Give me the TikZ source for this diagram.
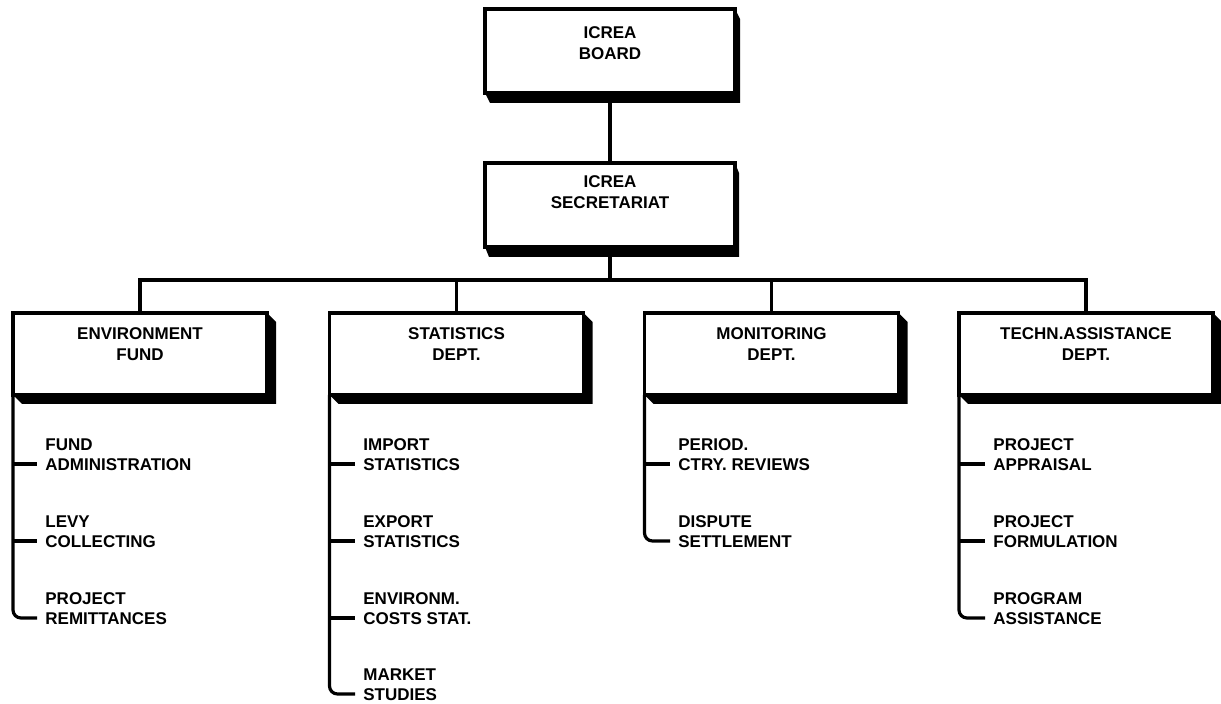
\documentclass[tikz,border=0pt]{standalone}
\usepackage{fontspec}
\setmainfont{Liberation Sans}
\usetikzlibrary{calc,backgrounds}
\newcommand\dropshadow[3]{%
  \fill ($(#1.south west)$) -- ($(#1.south west)+(#2,#3)$) -- ($(#1.south east)+(#2,#3)$)
    -- ($(#1.north east)+(#2,#3)$) -- ($(#1.north east)$) -- cycle;}
\begin{document}
\begin{tikzpicture}[x=0.5pt,y=-0.5pt,
  every node/.style={font=\fontsize{8.5}{10.5}\selectfont\bfseries},
  unit/.style={draw, line width=1.6pt, fill=white, align=center, inner sep=0pt, outer sep=0pt},
  topunit/.style={unit, minimum width=125pt, minimum height=42pt},
  dept/.style={unit, minimum width=127pt, minimum height=41pt, text depth=9.5pt},
  item/.style={anchor=south west, align=left, inner sep=0pt, text depth=0pt,
    font=\fontsize{8.5}{10}\selectfont\bfseries},
  link/.style={line width=1.6pt},
  tick/.style={line width=2pt}]
\useasboundingbox (0,0) rectangle (1221,704);

% boxes
\node[topunit, text depth=7.5pt] (board) at (610,51) {ICREA\\BOARD};
\node[topunit, text depth=12.5pt] (sec) at (610,205) {ICREA\\SECRETARIAT};
\node[dept] (env) at (140,354) {ENVIRONMENT\\FUND};
\node[dept] (stat) at (456.5,354) {STATISTICS\\DEPT.};
\node[dept] (mon) at (771.5,354) {MONITORING\\DEPT.};
\node[dept] (tech) at (1086,354) {TECHN.ASSISTANCE\\DEPT.};

% shadows
\begin{scope}[on background layer]
  \dropshadow{board}{5}{10}
  \dropshadow{sec}{4}{10}
  \dropshadow{env}{9}{9}
  \dropshadow{stat}{9}{9}
  \dropshadow{mon}{9}{9}
  \dropshadow{tech}{9}{9}
\end{scope}

% sub-items
\node[item] (fa) at (45,471) {FUND\\ADMINISTRATION};
\node[item] (lc) at (45,548) {LEVY\\COLLECTING};
\node[item] (pr) at (45,625) {PROJECT\\REMITTANCES};
\node[item] (is) at (363,471) {IMPORT\\STATISTICS};
\node[item] (es) at (363,548) {EXPORT\\STATISTICS};
\node[item] (ec) at (363,625) {ENVIRONM.\\COSTS STAT.};
\node[item] (ms) at (363,701) {MARKET\\STUDIES};
\node[item] (pc) at (678,471) {PERIOD.\\CTRY. REVIEWS};
\node[item] (ds) at (678,548) {DISPUTE\\SETTLEMENT};
\node[item] (pa) at (993,471) {PROJECT\\APPRAISAL};
\node[item] (pf) at (993,548) {PROJECT\\FORMULATION};
\node[item] (pg) at (993,625) {PROGRAM\\ASSISTANCE};

\foreach \n in {fa,lc,pr,is,es,ec,ms,pc,ds,pa,pf,pg}
  \coordinate (\n-t) at ($(\n.south west)+(-8,-7)$);

% hierarchy connectors
\coordinate (bus) at (610,280);
\draw[link] (board) -- (sec);
\draw[link] (sec.south) -- (bus);
\draw[link] (env.north) |- (bus) -| (tech.north);
\draw[link] (stat.north) -- (stat.north |- bus);
\draw[link] (mon.north) -- (mon.north |- bus);

% spines and ticks
\draw[link, rounded corners=4] (env.south west) |- (pr-t);
\draw[tick] (fa-t -| env.west) -- (fa-t);
\draw[tick] (lc-t -| env.west) -- (lc-t);

\draw[link, rounded corners=4] (stat.south west) |- (ms-t);
\draw[tick] (is-t -| stat.west) -- (is-t);
\draw[tick] (es-t -| stat.west) -- (es-t);
\draw[tick] (ec-t -| stat.west) -- (ec-t);

\draw[link, rounded corners=4] (mon.south west) |- (ds-t);
\draw[tick] (pc-t -| mon.west) -- (pc-t);

\draw[link, rounded corners=4] (tech.south west) |- (pg-t);
\draw[tick] (pa-t -| tech.west) -- (pa-t);
\draw[tick] (pf-t -| tech.west) -- (pf-t);
\end{tikzpicture}
\end{document}
